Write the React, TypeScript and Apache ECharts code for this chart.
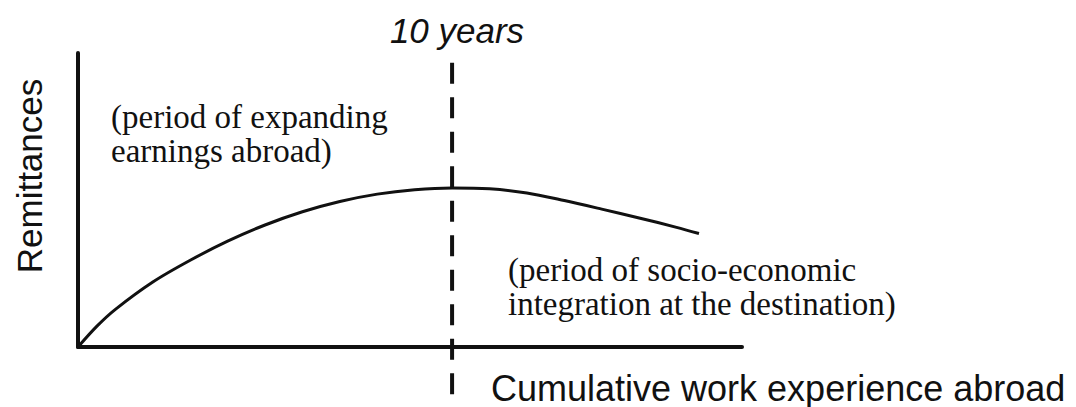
import { useEffect, useRef } from "react";
import * as echarts from "echarts";

// Conceptual curve: cumulative work experience abroad (years) vs remittances (index)
const years = [0, 0.5, 1, 2, 3, 4, 5, 6, 7, 8, 9, 10, 11, 12, 13, 14, 15, 16, 16.6];
const remittances = [0, 7, 12.8, 22.1, 29.5, 36, 41.5, 46, 49.5, 52, 53.5, 54.1, 53.8, 52.4, 49.8, 46.9, 43.9, 40.7, 38.6];

// Threshold marker
const markerYear = 10;
const markerSpan = [96.7, -20.5];
const markerLabel = "10 years";

// Axis extents and titles
const xMax = 17.75;
const yMax = 100;
const xTitle = "Cumulative work experience abroad";
const yTitle = "Remittances";

// Annotations
const noteEarly = "(period of expanding\nearnings abroad)";
const noteLate = "(period of socio-economic\nintegration at the destination)";

export default function App() {
  const ref = useRef<HTMLDivElement>(null);

  useEffect(() => {
    if (!ref.current) return;
    const chart = echarts.init(ref.current, null, { renderer: "svg" });
    const ink = "#111";
    const sans = "'Liberation Sans', Arial, sans-serif";
    const serif = "'Liberation Serif', 'Times New Roman', serif";

    const hiddenAxis = {
      axisLine: { show: true, lineStyle: { color: ink, width: 4 } },
      axisTick: { show: false },
      axisLabel: { show: false },
      splitLine: { show: false },
    };

    chart.setOption({
      animation: false,
      backgroundColor: "#fff",
      grid: { left: 78, right: 334, top: 53, bottom: 60, containLabel: false },
      xAxis: { type: "value", min: 0, max: xMax, ...hiddenAxis },
      yAxis: { type: "value", min: 0, max: yMax, ...hiddenAxis },
      series: [
        {
          type: "line",
          data: years.map((y, i) => [y, remittances[i]]),
          smooth: 0.3,
          showSymbol: false,
          lineStyle: { color: ink, width: 3 },
          z: 3,
        },
        {
          type: "line",
          data: markerSpan.map((v) => [markerYear, v]),
          clip: false,
          showSymbol: false,
          lineStyle: { color: ink, width: 4, type: [21, 13.5] },
          z: 4,
        },
      ],
      graphic: [
        {
          type: "text",
          x: 457,
          y: 30,
          style: {
            text: markerLabel,
            fontFamily: sans,
            fontStyle: "italic",
            fontSize: 35,
            fill: ink,
            align: "center",
            verticalAlign: "middle",
          },
        },
        {
          type: "text",
          x: 29,
          y: 176,
          rotation: Math.PI / 2,
          style: {
            text: yTitle,
            fontFamily: sans,
            fontSize: 35,
            fill: ink,
            align: "center",
            verticalAlign: "middle",
          },
        },
        {
          type: "text",
          x: 491,
          y: 388,
          style: {
            text: xTitle,
            fontFamily: sans,
            fontSize: 36,
            fill: ink,
            align: "left",
            verticalAlign: "middle",
          },
        },
        {
          type: "text",
          x: 111,
          y: 100,
          style: {
            text: noteEarly,
            fontFamily: serif,
            fontSize: 33,
            lineHeight: 34,
            fill: ink,
            align: "left",
            verticalAlign: "top",
          },
        },
        {
          type: "text",
          x: 508,
          y: 253,
          style: {
            text: noteLate,
            fontFamily: serif,
            fontSize: 33,
            lineHeight: 34,
            fill: ink,
            align: "left",
            verticalAlign: "top",
          },
        },
      ],
    });

    return () => chart.dispose();
  }, []);

  return (
    <div
      ref={ref}
      style={{ position: "fixed", left: 0, top: 0, width: 1076, height: 407, background: "#fff" }}
    />
  );
}
